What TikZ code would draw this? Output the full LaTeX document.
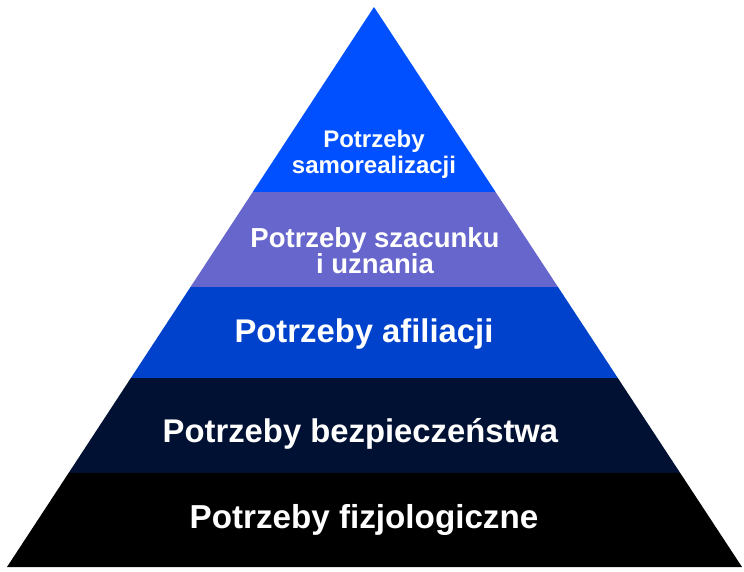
\documentclass[tikz,border=0pt]{standalone}
\usepackage{fontspec}
\setmainfont{Liberation Sans}
\usetikzlibrary{calc}
\definecolor{levelA}{HTML}{0050FF}
\definecolor{levelB}{HTML}{6666CC}
\definecolor{levelC}{HTML}{0042CC}
\definecolor{levelD}{HTML}{001133}
\definecolor{levelE}{HTML}{000000}
\begin{document}
\begin{tikzpicture}[x=1pt,y=-1pt,
  label/.style={text=white,font=\bfseries,inner sep=0pt,anchor=base}]
\useasboundingbox (0,0) rectangle (744,571);
% outline of the pyramid
\coordinate (apex) at (374,7);
\coordinate (bl) at (7,567);
\coordinate (br) at (742,567);
% band boundaries along both sides
\foreach \n/\t in {1/0.3304,2/0.5,3/0.6625,4/0.8321}{
  \coordinate (l\n) at ($(apex)!\t!(bl)$);
  \coordinate (r\n) at ($(apex)!\t!(br)$);
}
% the five levels, top to bottom
\fill[levelA] (apex) -- (l1) -- (r1) -- cycle;
\fill[levelB] (l1) -- (l2) -- (r2) -- (r1) -- cycle;
\fill[levelC] (l2) -- (l3) -- (r3) -- (r2) -- cycle;
\fill[levelD] (l3) -- (l4) -- (r4) -- (r3) -- cycle;
\fill[levelE] (l4) -- (bl) -- (br) -- (r4) -- cycle;
% level captions
\node[label,font=\bfseries\fontsize{24}{26}\selectfont] (t1a) at (374,147) {Potrzeby};
\node[label,font=\bfseries\fontsize{24}{26}\selectfont] (t1b) at (374,173) {samorealizacji};
\node[label,font=\bfseries\fontsize{27.5}{26}\selectfont] (t2a) at (375,247) {Potrzeby szacunku};
\node[label,font=\bfseries\fontsize{27.5}{26}\selectfont] (t2b) at (375,273) {i uznania};
\node[label,font=\bfseries\fontsize{32.8}{36}\selectfont] (t3) at (364,342) {Potrzeby afiliacji};
\node[label,font=\bfseries\fontsize{32.8}{36}\selectfont] (t4) at (360.5,442) {Potrzeby bezpieczeństwa};
\node[label,font=\bfseries\fontsize{33.2}{36}\selectfont] (t5) at (364,528) {Potrzeby fizjologiczne};
\end{tikzpicture}
\end{document}
